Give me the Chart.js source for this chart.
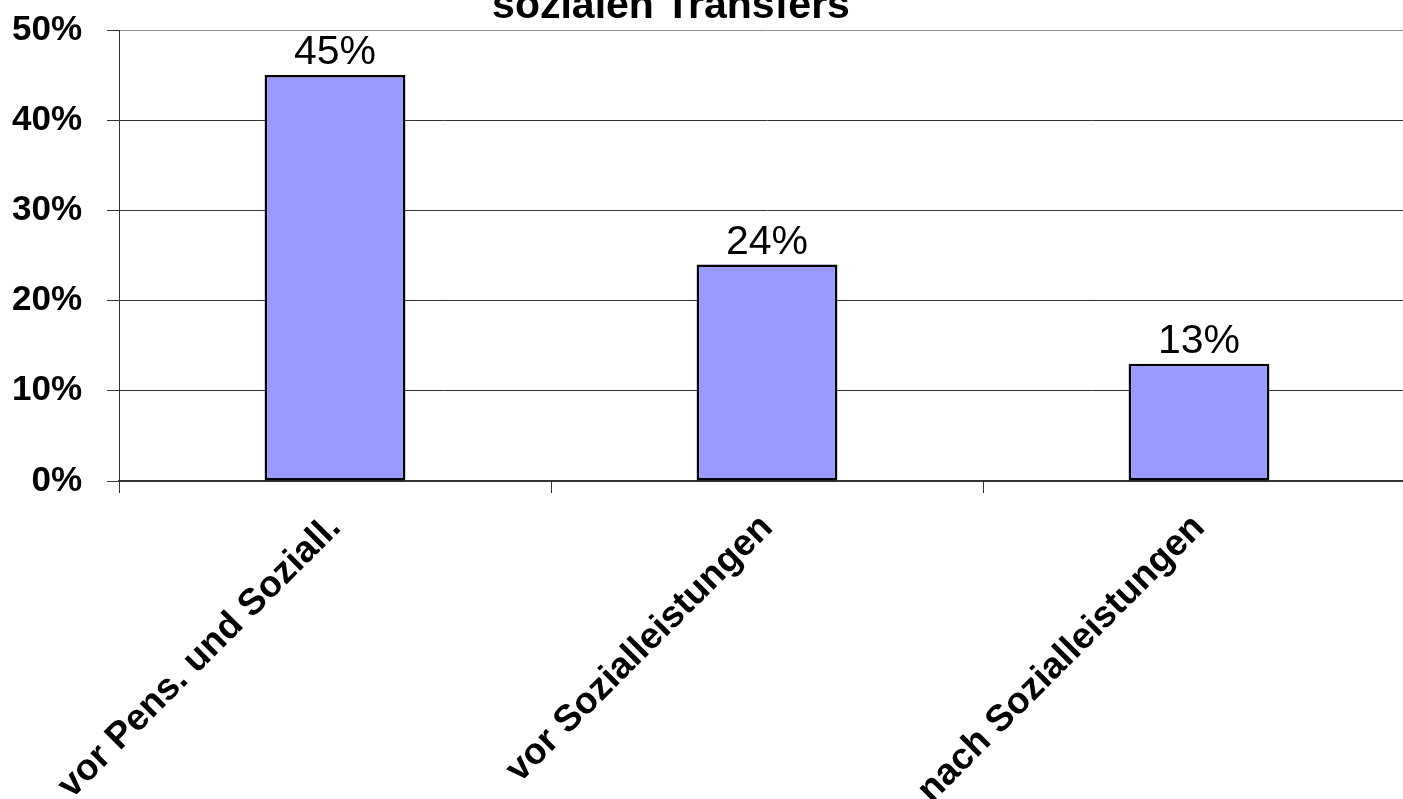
<!DOCTYPE html>
<html>
<head>
<meta charset="utf-8">
<script src="https://cdn.jsdelivr.net/npm/chart.js@4"></script>
<style>
  html, body { margin: 0; padding: 0; overflow: hidden; background: #fff; }
  #wrap { width: 1403px; height: 799px; overflow: hidden; }
  #myChart { display: block; margin-top: -16px; }
</style>
</head>
<body>
<div id="wrap"><canvas id="myChart" width="1415" height="900"></canvas></div>
<script>
let categories = ["vor Pens. und Soziall.", "vor Sozialleistungen", "nach Sozialleistungen"];
let quote = [45, 24, 13];
let tickValues = [0, 10, 20, 30, 40, 50];
let titleText = "sozialen Transfers";

let fontFamily = "'Liberation Sans', Arial, sans-serif";
let shiftY = 16; // canvas is pulled up by this much, so the title is cut like in the original

let titlePlugin = {
    id: 'cutTitle',
    afterDraw(chart) {
        let ctx = chart.ctx;
        ctx.save();
        ctx.font = "bold 41px " + fontFamily;
        ctx.fillStyle = '#000';
        ctx.textAlign = 'center';
        ctx.textBaseline = 'alphabetic';
        ctx.fillText(titleText, 671, 18 + shiftY);
        ctx.restore();
    }
};

let valueLabels = {
    id: 'valueLabels',
    afterDatasetsDraw(chart) {
        let ctx = chart.ctx;
        ctx.save();
        ctx.font = "41px " + fontFamily;
        ctx.fillStyle = '#000';
        ctx.textAlign = 'center';
        ctx.textBaseline = 'alphabetic';
        chart.getDatasetMeta(0).data.forEach(function(bar, i) {
            ctx.fillText(quote[i] + '%', bar.x, bar.y - 11);
        });
        ctx.restore();
    }
};

let myChart = document.getElementById("myChart").getContext("2d");

let armutChart = new Chart(myChart, {
    type: 'bar',
    data: {
        labels: categories,
        datasets: [{
            label: 'Armutsgefährdung',
            data: quote,
            backgroundColor: '#9999FF',
            borderColor: '#000000',
            borderWidth: 2.5,
            borderSkipped: false,
            barPercentage: 0.326,
            categoryPercentage: 1
        }]
    },
    options: {
        responsive: false,
        animation: false,
        devicePixelRatio: 1,
        layout: {
            padding: { top: 15, left: 0, right: 0, bottom: 0 }
        },
        plugins: {
            legend: { display: false },
            tooltip: { enabled: false },
            title: { display: false }
        },
        scales: {
            y: {
                min: 0,
                max: 50,
                afterFit: function(scale) { scale.width = 119; },
                afterBuildTicks: function(scale) {
                    scale.ticks = tickValues.map(v => ({ value: v }));
                },
                ticks: {
                    callback: function(value) { return value + '%'; },
                    color: '#000',
                    padding: 25,
                    font: { family: fontFamily, size: 35, weight: 'bold' }
                },
                grid: {
                    color: function(c) { return c.tick && c.tick.value === 50 ? '#8a8a8a' : '#333333'; },
                    lineWidth: 1,
                    tickLength: 12,
                    tickColor: '#333333'
                },
                border: { color: '#333333', width: 1 }
            },
            x: {
                afterFit: function(scale) { scale.height = 900 - 481 - shiftY; },
                ticks: {
                    autoSkip: false,
                    minRotation: 45,
                    maxRotation: 45,
                    color: '#000',
                    padding: 13,
                    font: { family: fontFamily, size: 37, weight: 'bold' }
                },
                grid: {
                    offset: true,
                    drawOnChartArea: false,
                    drawTicks: true,
                    tickLength: 12,
                    color: '#333333'
                },
                border: { color: '#333333', width: 2 }
            }
        }
    },
    plugins: [titlePlugin, valueLabels]
});
</script>
</body>
</html>
